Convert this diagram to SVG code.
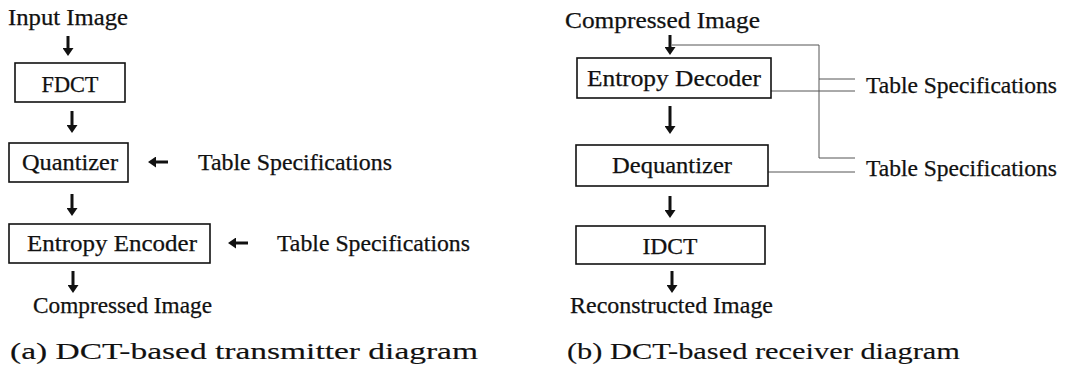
<svg xmlns="http://www.w3.org/2000/svg" width="1074" height="369" viewBox="0 0 1074 369" font-family="'Liberation Serif', 'Times New Roman', serif">
<style>
  text { font-family: 'Liberation Serif', 'Times New Roman', serif; font-size: 23px; fill: #111; stroke: #111; stroke-width: 0.25; }
  .cap { font-size: 24px; stroke-width: 0.15; }
  .box { fill: #fff; stroke: #111; stroke-width: 1.6; }
  .arr { stroke: #111; stroke-width: 3; fill: none; marker-end: url(#ah); }
  .thin { stroke: #555; stroke-width: 1; fill: none; }
</style>
<defs>
  <marker id="ah" viewBox="0 0 8 11" refX="0" refY="5.5" markerWidth="8" markerHeight="11" markerUnits="userSpaceOnUse" orient="auto">
    <path d="M0,0 L8,5.5 L0,11 z" fill="#111"/>
  </marker>
</defs>
<rect width="1074" height="369" fill="#fff"/>

<g id="connectors">
  <line class="arr" x1="68" y1="36" x2="68" y2="48"/>
  <line class="arr" x1="72" y1="111" x2="72" y2="125"/>
  <line class="arr" x1="168" y1="162" x2="156" y2="162"/>
  <line class="arr" x1="72" y1="194" x2="72" y2="208"/>
  <line class="arr" x1="248" y1="243" x2="236" y2="243"/>
  <line class="arr" x1="73" y1="271" x2="73" y2="285"/>
  <line class="arr" x1="670" y1="35" x2="670" y2="47"/>
  <line class="arr" x1="670" y1="106" x2="670" y2="126"/>
  <line class="arr" x1="670" y1="196" x2="670" y2="210"/>
  <line class="arr" x1="672" y1="271" x2="672" y2="285"/>
  <polyline class="thin" points="672,45 819,45 819,158 855,158"/>
  <line class="thin" x1="819" y1="79" x2="855" y2="79"/>
  <line class="thin" x1="771" y1="91" x2="855" y2="91"/>
  <line class="thin" x1="768" y1="172" x2="855" y2="172"/>
</g>

<g id="input-image"><text x="8" y="25" textLength="120" lengthAdjust="spacingAndGlyphs">Input Image</text></g>
<g id="fdct"><rect class="box" x="15" y="63" width="110" height="39"/><text x="70" y="92" text-anchor="middle" textLength="57" lengthAdjust="spacingAndGlyphs">FDCT</text></g>
<g id="quantizer"><rect class="box" x="9" y="143" width="119" height="39"/><text x="22" y="170" textLength="96" lengthAdjust="spacingAndGlyphs">Quantizer</text></g>
<g id="table-spec-a1"><text x="198" y="170" textLength="194" lengthAdjust="spacingAndGlyphs">Table Specifications</text></g>
<g id="entropy-encoder"><rect class="box" x="9" y="224" width="201" height="39"/><text x="27" y="251" textLength="170" lengthAdjust="spacingAndGlyphs">Entropy Encoder</text></g>
<g id="table-spec-a2"><text x="277" y="251" textLength="193" lengthAdjust="spacingAndGlyphs">Table Specifications</text></g>
<g id="compressed-out"><text x="33" y="313" textLength="179" lengthAdjust="spacingAndGlyphs">Compressed Image</text></g>
<g id="caption-a"><text class="cap" x="10" y="359" textLength="468" lengthAdjust="spacingAndGlyphs">(a)  DCT-based transmitter diagram</text></g>

<g id="compressed-in"><text x="565" y="28" textLength="195" lengthAdjust="spacingAndGlyphs">Compressed Image</text></g>
<g id="entropy-decoder"><rect class="box" x="577" y="58" width="194" height="40"/><text x="674" y="86" text-anchor="middle" textLength="174" lengthAdjust="spacingAndGlyphs">Entropy Decoder</text></g>
<g id="table-spec-b1"><text x="866" y="93" textLength="191" lengthAdjust="spacingAndGlyphs">Table Specifications</text></g>
<g id="dequantizer"><rect class="box" x="576" y="145" width="192" height="41"/><text x="672" y="173" text-anchor="middle" textLength="120" lengthAdjust="spacingAndGlyphs">Dequantizer</text></g>
<g id="table-spec-b2"><text x="866" y="176" textLength="191" lengthAdjust="spacingAndGlyphs">Table Specifications</text></g>
<g id="idct"><rect class="box" x="576" y="226" width="189" height="38"/><text x="670" y="254" text-anchor="middle" textLength="55" lengthAdjust="spacingAndGlyphs">IDCT</text></g>
<g id="reconstructed"><text x="570" y="313" textLength="203" lengthAdjust="spacingAndGlyphs">Reconstructed Image</text></g>
<g id="caption-b"><text class="cap" x="567" y="359" textLength="393" lengthAdjust="spacingAndGlyphs">(b)  DCT-based receiver diagram</text></g>
</svg>
